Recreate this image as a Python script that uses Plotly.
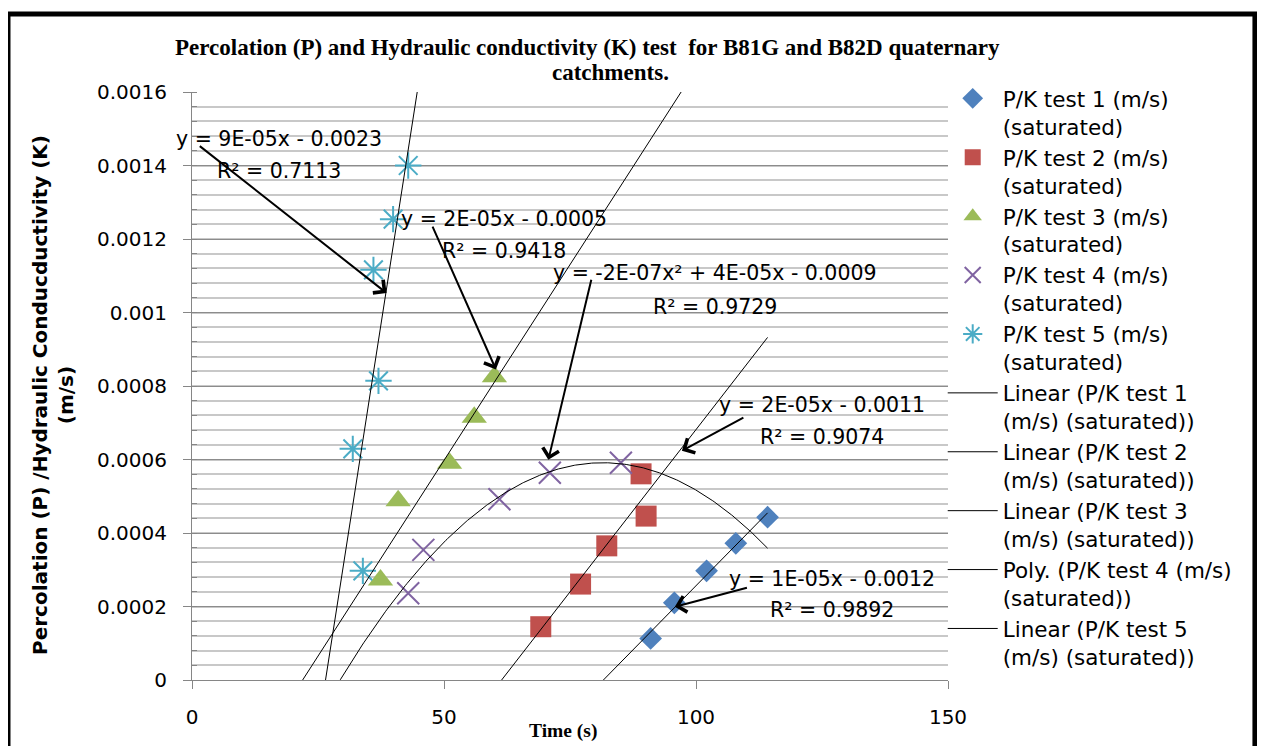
import numpy as np
import plotly.graph_objects as go

# ---- data ----
time_1 = [91.0, 95.7, 102.1, 107.9, 114.2]
pk_1 = [0.000113, 0.000210, 0.000297, 0.000372, 0.000443]
time_2 = [69.2, 77.1, 82.3, 89.1, 90.1]
pk_2 = [0.000145, 0.000261, 0.000365, 0.000561, 0.000446]
time_3 = [37.4, 40.9, 51.1, 56.0, 60.0]
pk_3 = [0.000272, 0.000488, 0.000590, 0.000715, 0.000825]
time_4 = [42.9, 45.9, 61.0, 71.0, 85.1]
pk_4 = [0.000236, 0.000354, 0.000492, 0.000564, 0.000591]
time_5 = [31.9, 33.9, 36.0, 37.0, 39.9, 42.9]
pk_5 = [0.000629, 0.000297, 0.001116, 0.000814, 0.001254, 0.001400]

series_names = [
    "P/K test 1 (m/s)<br>(saturated)",
    "P/K test 2 (m/s)<br>(saturated)",
    "P/K test 3 (m/s)<br>(saturated)",
    "P/K test 4 (m/s)<br>(saturated)",
    "P/K test 5 (m/s)<br>(saturated)",
]
trend_names = [
    "Linear (P/K test 1<br>(m/s) (saturated))",
    "Linear (P/K test 2<br>(m/s) (saturated))",
    "Linear (P/K test 3<br>(m/s) (saturated))",
    "Poly. (P/K test 4 (m/s)<br>(saturated))",
    "Linear (P/K test 5<br>(m/s) (saturated))",
]
trend_degree = [1, 1, 1, 2, 1]
equation_text = [
    "y = 1E-05x - 0.0012",
    "y = 2E-05x - 0.0011",
    "y = 2E-05x - 0.0005",
    "y = -2E-07x² + 4E-05x - 0.0009",
    "y = 9E-05x - 0.0023",
]
r2_text = ["R² = 0.9892", "R² = 0.9074", "R² = 0.9418", "R² = 0.9729", "R² = 0.7113"]

x_tick_vals = [0, 50, 100, 150]
y_tick_vals = [0, 0.0002, 0.0004, 0.0006, 0.0008, 0.001, 0.0012, 0.0014, 0.0016]
y_tick_text = ["0", "0.0002", "0.0004", "0.0006", "0.0008", "0.001", "0.0012", "0.0014", "0.0016"]

# ---- style ----
xs = [time_1, time_2, time_3, time_4, time_5]
ys = [pk_1, pk_2, pk_3, pk_4, pk_5]
colors = ["#4F81BD", "#C0504D", "#9BBB59", "#8064A2", "#4BACC6"]
symbols = ["diamond", "square", "triangle-up", "x-thin-open", "asterisk-open"]
sizes = [17.5, 21, 22, 22, 22]
FONT = "DejaVu Sans"
SERIF = "Liberation Serif"

fig = go.Figure()
for i in range(5):
    filled = i < 3
    fig.add_trace(go.Scatter(
        x=xs[i], y=ys[i], mode="markers", name=series_names[i],
        marker=dict(symbol=symbols[i], size=sizes[i], color=colors[i],
                    line=dict(width=2 if not filled else 0, color=colors[i])),
    ))

x_all_max = max(max(x) for x in xs)
for i in range(5):
    coef = np.polyfit(xs[i], ys[i], trend_degree[i])
    xf = np.linspace(0, x_all_max, 400)
    yf = np.polyval(coef, xf)
    fig.add_trace(go.Scatter(
        x=xf, y=yf, mode="lines", name=trend_names[i],
        line=dict(color="black", width=1), hoverinfo="skip",
    ))

annotations = []
# trendline labels (two lines each, centred)
label_pos = [(127.0, 0.000275, 0.000190), (124.9, 0.000748, 0.000662),
             (62.0, 0.001254, 0.001168), (103.8, 0.001107, 0.001016),
             (17.2, 0.001472, 0.001385)]
for i, (lx, ly1, ly2) in enumerate(label_pos):
    annotations.append(dict(x=lx, y=ly1, xref="x", yref="y", text=equation_text[i],
                            xanchor="center", yanchor="middle",
                            showarrow=False, font=dict(family=FONT, size=20.5, color="black")))
    annotations.append(dict(x=lx, y=ly2, xref="x", yref="y", text=r2_text[i],
                            xanchor="center", yanchor="middle",
                            showarrow=False, font=dict(family=FONT, size=20.5, color="black")))

# arrows: (tip_x, tip_y, start_x, start_y)
arrows = [(95.8, 0.000199, 110.4, 0.000252), (97.2, 0.000624, 109.7, 0.000716),
          (60.3, 0.000845, 47.6, 0.001238), (70.7, 0.000599, 79.3, 0.001093),
          (38.6, 0.001053, 1.25, 0.001456)]
for tx, ty, sx, sy in arrows:
    annotations.append(dict(x=tx, y=ty, ax=sx, ay=sy, xref="x", yref="y", axref="x", ayref="y",
                            text="", showarrow=True, arrowhead=4, arrowsize=1.6,
                            arrowwidth=2, arrowcolor="black"))

# titles
annotations.append(dict(x=0.5238, y=1.0765, xref="paper", yref="paper", showarrow=False,
                        xanchor="center", yanchor="middle",
                        text="<b>Percolation (P) and Hydraulic conductivity (K) test  for B81G and B82D quaternary</b>",
                        font=dict(family=SERIF, size=23, color="black")))
annotations.append(dict(x=0.553, y=1.034, xref="paper", yref="paper", showarrow=False,
                        xanchor="center", yanchor="middle",
                        text="<b>catchments.</b>", font=dict(family=SERIF, size=23, color="black")))
annotations.append(dict(x=0.4907, y=-0.0867, xref="paper", yref="paper", showarrow=False,
                        xanchor="center", yanchor="middle",
                        text="<b>Time (s)</b>", font=dict(family=SERIF, size=19.5, color="black")))
annotations.append(dict(x=-0.1839, y=0.4847, xref="paper", yref="paper", showarrow=False,
                        xanchor="center", yanchor="middle", textangle=-90,
                        text="<b>Percolation (P) /Hydraulic Conducductivity (K)<br>(m/s)</b>",
                        font=dict(family=FONT, size=20, color="black")))

# page body has an 8px margin: shrink canvas so plot area lands on reference pixels
fig.update_layout(
    width=1257, height=738,
    margin=dict(l=184, r=317, t=84, b=66),
    paper_bgcolor="white", plot_bgcolor="white",
    showlegend=True,
    legend=dict(x=0.993, y=1.024, xanchor="left", yanchor="top", maxheight=700,
                font=dict(family=FONT, size=21.5, color="black"),
                itemwidth=50, valign="top", bgcolor="rgba(0,0,0,0)", tracegroupgap=0),
    annotations=annotations,
    shapes=[dict(type="rect", xref="paper", yref="paper",
                 x0=-0.2434, x1=1.406, y0=-0.14, y1=1.1327,
                 line=dict(color="black", width=5))],
)
fig.update_xaxes(range=[0, 150], tickvals=x_tick_vals, showgrid=False, zeroline=False,
                 showline=True, linecolor="#868686", linewidth=1,
                 ticks="outside", ticklen=8, tickcolor="#868686",
                 ticklabelstandoff=11,
                 tickfont=dict(family=FONT, size=20, color="black"))
fig.update_yaxes(range=[0, 0.0016], tickvals=y_tick_vals, ticktext=y_tick_text,
                 showgrid=True, gridcolor="#8c8c8c", gridwidth=1, zeroline=False,
                 showline=True, linecolor="#868686", linewidth=1,
                 ticks="outside", ticklen=8, tickcolor="#868686",
                 ticklabelstandoff=12,
                 tickfont=dict(family=FONT, size=20, color="black"),
                 minor=dict(dtick=0.00004, tick0=0, showgrid=True, gridcolor="#c8c8c8",
                            gridwidth=1.5, ticks="inside", ticklen=5, tickcolor="#868686"))

fig.write_html("out.html")
